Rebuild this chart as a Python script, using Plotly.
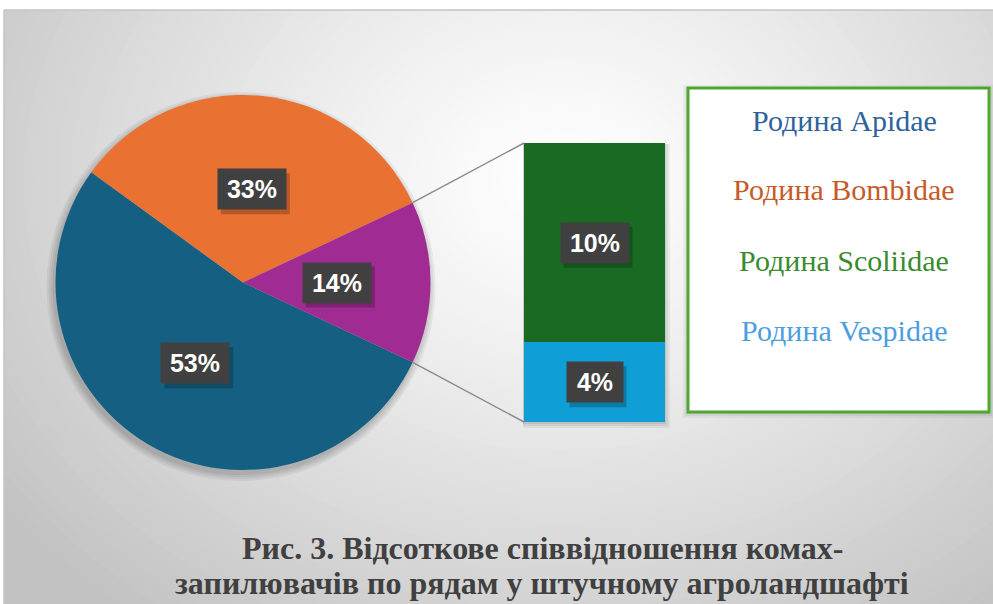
import math
import plotly.graph_objects as go

# ---------------- data ----------------
families = ["Родина Apidae", "Родина Bombidae", "Родина Scoliidae", "Родина Vespidae"]
shares = [53, 33, 10, 4]                      # %
pie_labels = ["Apidae", "Bombidae", "Інші"]   # third slice = Scoliidae + Vespidae
bar_labels = ["Scoliidae", "Vespidae"]
title_lines = ["Рис. 3. Відсоткове співвідношення комах-",
               "запилювачів по рядам у штучному агроландшафті"]

slice_colors = ["#156082", "#E97132", "#A02B93"]
bar_colors = {"Scoliidae": "#196B24", "Vespidae": "#0F9ED5"}
legend_text_colors = ["#2E629C", "#C65A28", "#3A8A30", "#4C9DDF"]

pie_values = [shares[0], shares[1], shares[2] + shares[3]]
other_total = pie_values[2]

# ---------------- geometry helpers ----------------
W, H = 993, 604
def X(px): return px / W
def Y(py): return 1 - py / H

cx, cy, R = 243, 282.5, 187.5            # pie centre / radius in pixels
bar_x0, bar_x1, bar_y0, bar_y1 = 524, 665, 143, 422
def bar_py(v): return bar_y1 - (bar_y1 - bar_y0) * v / other_total

half = other_total / 100 * 360 / 2       # half-angle of the "other" slice
rotation = 90 + half

fig = go.Figure()

fig.add_trace(go.Pie(
    labels=pie_labels, values=pie_values, sort=False,
    direction="clockwise", rotation=rotation,
    marker=dict(colors=slice_colors, line=dict(width=0)),
    textinfo="none", hoverinfo="label+percent", showlegend=False,
    domain=dict(x=[X(cx - R), X(cx + R)], y=[Y(cy + R), Y(cy - R)]),
))

# stacked bar of the "other" slice: Vespidae at bottom, Scoliidae on top
fig.add_trace(go.Bar(x=[0], y=[shares[3]], width=1, marker=dict(color=bar_colors["Vespidae"], line=dict(width=0)),
                     name="Vespidae", showlegend=False, xaxis="x", yaxis="y"))
fig.add_trace(go.Bar(x=[0], y=[shares[2]], width=1, marker=dict(color=bar_colors["Scoliidae"], line=dict(width=0)),
                     name="Scoliidae", showlegend=False, xaxis="x", yaxis="y"))

shapes = []
# radial gradient background
edge = 194
FX, FY = 4, 10   # white frame offsets (left / top)
shapes.append(dict(type="rect", xref="paper", yref="paper", x0=X(FX), x1=X(1000), y0=Y(610), y1=Y(FY),
                   fillcolor=f"rgb({edge},{edge},{edge})", line=dict(width=0), layer="below"))
gcx, gcy, grx, gry = 560, 180, 700, 560
N = 60
for i in range(N):
    s = 1 - i / N
    c = int(round(255 - (255 - edge) * s ** 1.2))
    shapes.append(dict(type="circle", xref="paper", yref="paper",
                       x0=X(gcx - grx * s), x1=X(gcx + grx * s), y0=Y(gcy + gry * s), y1=Y(gcy - gry * s),
                       fillcolor=f"rgb({c},{c},{c})", line=dict(width=0), layer="below"))
# white frame strips + thin border
shapes.append(dict(type="rect", xref="paper", yref="paper", x0=X(-20), x1=X(FX), y0=Y(620), y1=Y(-20),
                   fillcolor="white", line=dict(width=0), layer="below"))
shapes.append(dict(type="rect", xref="paper", yref="paper", x0=X(-20), x1=X(1020), y0=Y(FY), y1=Y(-20),
                   fillcolor="white", line=dict(width=0), layer="below"))
shapes.append(dict(type="line", xref="paper", yref="paper", x0=X(FX), x1=X(1000), y0=Y(FY), y1=Y(FY),
                   line=dict(color="#C4C4C4", width=1.5), layer="below"))
shapes.append(dict(type="line", xref="paper", yref="paper", x0=X(FX), x1=X(FX), y0=Y(FY), y1=Y(610),
                   line=dict(color="#C4C4C4", width=1.5), layer="below"))

# soft shadows
for k, op in enumerate([0.05, 0.05, 0.05, 0.06]):
    rr = R + 7 - 2 * k
    shapes.append(dict(type="circle", xref="paper", yref="paper",
                       x0=X(cx - 2 - rr), x1=X(cx - 2 + rr), y0=Y(cy + 4 + rr), y1=Y(cy + 4 - rr),
                       fillcolor=f"rgba(0,0,0,{op})", line=dict(width=0), layer="below"))
for k, op in enumerate([0.05, 0.06, 0.07]):
    d = 5 - 2 * k
    shapes.append(dict(type="rect", xref="paper", yref="paper",
                       x0=X(bar_x0 - 1), x1=X(bar_x1 + d), y0=Y(bar_y1 + d + 1), y1=Y(bar_y0 + 1),
                       fillcolor=f"rgba(0,0,0,{op})", line=dict(width=0), layer="below"))
for k, op in enumerate([0.04, 0.05, 0.06]):
    d = 5 - 2 * k
    shapes.append(dict(type="rect", xref="paper", yref="paper",
                       x0=X(688 - d), x1=X(989 + d), y0=Y(412 + d + 1), y1=Y(88 - d + 2),
                       fillcolor=f"rgba(0,0,0,{op})", line=dict(width=0), layer="below"))

# connector lines from the "other" slice to the bar
th = math.radians(half)
for sgn, by in [(1, bar_y0), (-1, bar_y1)]:
    px = cx + R * math.cos(th)
    py = cy - sgn * R * math.sin(th)
    shapes.append(dict(type="line", xref="paper", yref="paper", x0=X(px), y0=Y(py), x1=X(bar_x0), y1=Y(by),
                       line=dict(color="#8C8C8C", width=1.5), layer="above"))

# legend box
shapes.append(dict(type="rect", xref="paper", yref="paper", x0=X(688), x1=X(989), y0=Y(412), y1=Y(88),
                   fillcolor="white", line=dict(color="#4EA72E", width=3), layer="below"))

annotations = []
PAD = 6
def label(px, py, text, w=56, h=28):
    # drop shadow (shape) + dark label box (annotation)
    bw, bh = w + 2 * PAD, h + 2 * PAD
    shapes.append(dict(type="rect", xref="paper", yref="paper",
                       x0=X(px - bw / 2 + 3), x1=X(px + bw / 2 + 4), y0=Y(py + bh / 2 + 5), y1=Y(py - bh / 2 + 4),
                       fillcolor="rgba(0,0,0,0.22)", line=dict(width=0), layer="above"))
    annotations.append(dict(x=X(px), y=Y(py), xref="paper", yref="paper", showarrow=False, text=text,
                            xanchor="center", yanchor="middle", width=w, height=h, borderpad=PAD,
                            align="center", valign="middle", bgcolor="#404040",
                            font=dict(family="Liberation Sans, Arial", size=25, color="white")))

# pie labels at half radius along each slice's mid angle
order = [2, 1, 0]  # other, Bombidae, Apidae counter-clockwise from -half
acc = -half
mids = {}
for idx in order:
    span = pie_values[idx] / 100 * 360
    mids[idx] = acc + span / 2
    acc += span
for idx in range(3):
    m = math.radians(mids[idx])
    lx = cx + 0.5 * R * math.cos(m)
    ly = cy - 0.5 * R * math.sin(m)
    label(lx, ly, f"<b>{pie_values[idx]}%</b>")

# bar labels at segment centres
bx = (bar_x0 + bar_x1) / 2
label(bx, bar_py(shares[3] + shares[2] / 2), f"<b>{shares[2]}%</b>")
label(bx, bar_py(shares[3] / 2), f"<b>{shares[3]}%</b>", w=44)

# legend text
for i, (name, col) in enumerate(zip(families, legend_text_colors)):
    annotations.append(dict(x=X(844), y=Y(120 + 70 * i), xref="paper", yref="paper", showarrow=False,
                            xanchor="center", yanchor="middle", text=name,
                            font=dict(family="Liberation Serif, Times New Roman", size=30, color=col)))

# caption
for i, line in enumerate(title_lines):
    annotations.append(dict(x=X(542), y=Y(548 + 35 * i), xref="paper", yref="paper", showarrow=False,
                            xanchor="center", yanchor="middle", text="<b>" + line + "</b>",
                            font=dict(family="Liberation Serif, Times New Roman", size=32, color="#404040")))

fig.update_layout(
    width=W, height=H, margin=dict(l=0, r=0, t=0, b=0),
    paper_bgcolor="white", plot_bgcolor="rgba(0,0,0,0)",
    barmode="stack", bargap=0, showlegend=False,
    xaxis=dict(domain=[X(bar_x0), X(bar_x1)], range=[-0.5, 0.5], visible=False, fixedrange=True),
    yaxis=dict(domain=[Y(bar_y1), Y(bar_y0)], range=[0, other_total], visible=False, fixedrange=True),
    shapes=shapes, annotations=annotations,
)

fig.write_html("out.html", config={"displayModeBar": False},
               post_script="document.body.style.margin='0';document.body.style.overflow='hidden';")
